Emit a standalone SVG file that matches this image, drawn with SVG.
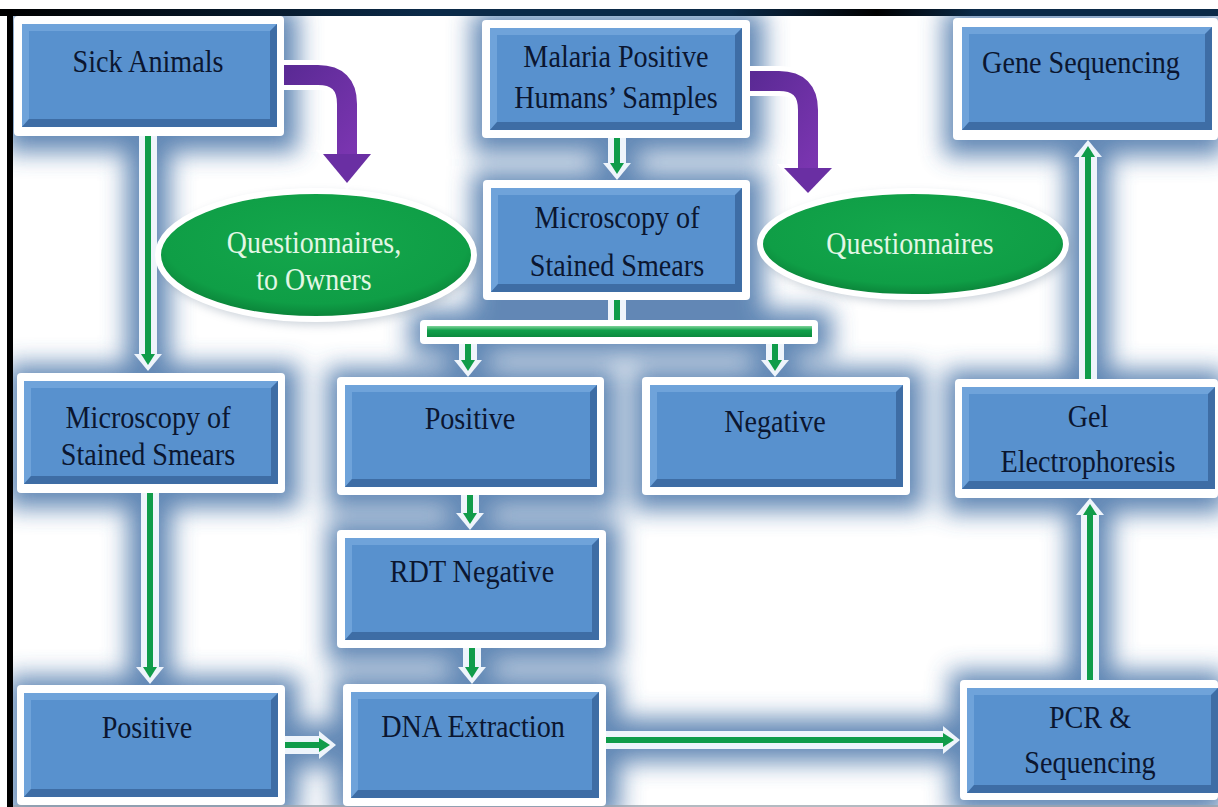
<svg xmlns="http://www.w3.org/2000/svg" width="1218" height="807" viewBox="0 0 1218 807">
<defs>
<style>
.frame{fill:#ffffff}
.body{fill:#5891ce}
.dark{fill:#3e6da5}
.light{fill:#6fa3da}
.lbl{font-family:"Liberation Serif","Times New Roman","DejaVu Serif",serif;font-size:32px;fill:#0b1630;text-anchor:middle;transform-box:fill-box;transform-origin:center;transform:scaleX(0.88)}
.elbl{font-family:"Liberation Serif","Times New Roman","DejaVu Serif",serif;font-size:31px;fill:#e2f7e5;text-anchor:middle;transform-box:fill-box;transform-origin:center;transform:scaleX(0.9)}
.halo{fill:none;stroke:#eef4fb;stroke-width:18;marker-end:url(#wh)}
.core{fill:none;stroke:#109c4a;stroke-width:6;marker-end:url(#gh)}
.stemh{fill:none;stroke:#eef4fb;stroke-width:18}
.stemc{fill:none;stroke:#109c4a;stroke-width:6}
.ph{fill:none;stroke:#ffffff;stroke-width:30}
.pc{fill:none;stroke:url(#pg);stroke-width:20}
.ell{fill:url(#eg);stroke:#ffffff;stroke-width:6}
.glow{fill:#3b6aa3}
.glowl{stroke:#3b6aa3;fill:none;stroke-width:44}
</style>
<filter id="blur" x="-30%" y="-30%" width="160%" height="160%"><feGaussianBlur stdDeviation="12"/></filter>
<filter id="sblur" x="-20%" y="-20%" width="140%" height="140%"><feGaussianBlur stdDeviation="5"/></filter>
<linearGradient id="topbar" x1="0" y1="0" x2="1" y2="0">
<stop offset="0" stop-color="#000000"/><stop offset="0.35" stop-color="#0b2a48"/><stop offset="0.6" stop-color="#0b2a48"/><stop offset="0.72" stop-color="#000000"/><stop offset="0.8" stop-color="#0b2a48"/><stop offset="1" stop-color="#0b2a48"/>
</linearGradient>
<linearGradient id="pg" x1="0" y1="0" x2="1" y2="1">
<stop offset="0" stop-color="#5b2a95"/><stop offset="1" stop-color="#7a35b0"/>
</linearGradient>
<radialGradient id="eg" cx="0.5" cy="0.4" r="0.6">
<stop offset="0" stop-color="#14a74c"/><stop offset="0.8" stop-color="#0f9e46"/><stop offset="1" stop-color="#0a7f37"/>
</radialGradient>
<linearGradient id="barg" x1="0" y1="0" x2="0" y2="1">
<stop offset="0" stop-color="#7fd39a"/><stop offset="0.4" stop-color="#11a04b"/><stop offset="1" stop-color="#0b8a3e"/>
</linearGradient>
<marker id="wh" markerUnits="userSpaceOnUse" markerWidth="20" markerHeight="32" viewBox="0 -16 20 32" refX="0" refY="0" orient="auto"><path d="M0,-14 L17,0 L0,14 Z" fill="#eef4fb"/></marker>
<marker id="gh" markerUnits="userSpaceOnUse" markerWidth="14" markerHeight="18" viewBox="0 -9 14 18" refX="0" refY="0" orient="auto"><path d="M0,-7 L11,0 L0,7 Z" fill="#109c4a"/></marker>
</defs>
<rect x="0" y="0" width="1218" height="807" fill="#ffffff"/>

<!-- glow layer -->
<g id="glow" filter="url(#blur)" opacity="0.8">
<rect class="glow" x="6" y="8" width="292" height="144"/>
<rect class="glow" x="472" y="12" width="292" height="142"/>
<rect class="glow" x="944" y="10" width="280" height="146"/>
<rect class="glow" x="472" y="171" width="292" height="144"/>
<rect class="glow" x="7" y="364" width="292" height="144"/>
<rect class="glow" x="327" y="368" width="291" height="142"/>
<rect class="glow" x="632" y="368" width="292" height="142"/>
<rect class="glow" x="945" y="370" width="280" height="143"/>
<rect class="glow" x="327" y="521" width="293" height="142"/>
<rect class="glow" x="7" y="676" width="292" height="144"/>
<rect class="glow" x="333" y="675" width="287" height="144"/>
<rect class="glow" x="950" y="671" width="275" height="144"/>
<rect class="glow" x="410" y="310" width="422" height="46"/>
<path class="glowl" d="M148,136 V371 M150,493 V684 M285,745 H336 M617,138 V180 M617,300 V321 M468,343 V377 M775,343 V377 M470,495 V530 M472,648 V684 M606,740 H960 M1090,680 V498 M1088,379 V140"/>
</g>
<g id="eglow" filter="url(#sblur)" opacity="0.35">
<ellipse cx="318" cy="259" rx="160" ry="66" fill="#6b7f95"/>
<ellipse cx="915" cy="248" rx="155" ry="55" fill="#6b7f95"/>
</g>

<!-- black border and white margins -->
<rect x="0" y="0" width="1218" height="9" fill="#ffffff"/>
<rect x="0" y="0" width="7" height="807" fill="#ffffff"/>
<rect x="0" y="9" width="1218" height="7" fill="url(#topbar)"/>
<rect x="7" y="9" width="6" height="798" fill="#000000"/>
<line x1="13" y1="806" x2="1218" y2="806" stroke="#9aa3ad" stroke-width="1.5"/>

<!-- connectors -->
<g id="connectors">
<path class="stemh" d="M617,300 V322"/>
<path class="stemc" d="M617,300 V322"/>
<g id="bar">
<rect x="420" y="320" width="398" height="24" rx="4" fill="#ffffff"/>
<rect x="427" y="326" width="385" height="11" fill="url(#barg)"/>
</g>
<path class="halo" d="M148,136 V354"/><path class="core" d="M148,136 V354"/>
<path class="halo" d="M150,493 V667"/><path class="core" d="M150,493 V667"/>
<path class="halo" d="M285,745 H319"/><path class="core" d="M285,745 H319"/>
<path class="halo" d="M617,138 V163"/><path class="core" d="M617,138 V163"/>
<path class="halo" d="M468,344 V360"/><path class="core" d="M468,344 V360"/>
<path class="halo" d="M775,344 V360"/><path class="core" d="M775,344 V360"/>
<path class="halo" d="M470,495 V513"/><path class="core" d="M470,495 V513"/>
<path class="halo" d="M472,648 V667"/><path class="core" d="M472,648 V667"/>
<path class="halo" d="M606,740 H943"/><path class="core" d="M606,740 H943"/>
<path class="halo" d="M1090,680 V515"/><path class="core" d="M1090,680 V515"/>
<path class="halo" d="M1088,379 V157"/><path class="core" d="M1088,379 V157"/>
<g id="purple1">
<path class="ph" d="M284,75 H318 Q347,75 347,104 V154"/>
<polygon points="316,150 378,150 347,190" fill="#ffffff"/>
<path class="pc" d="M284,75 H318 Q347,75 347,104 V156"/>
<polygon points="323,154 371,154 347,183" fill="#6a2fa3"/>
</g>
<g id="purple2">
<path class="ph" d="M750,81 H779 Q808,81 808,110 V168"/>
<polygon points="777,164 839,164 808,200" fill="#ffffff"/>
<path class="pc" d="M750,81 H779 Q808,81 808,110 V170"/>
<polygon points="784,168 832,168 808,193" fill="#6a2fa3"/>
</g>
</g>

<!-- nodes -->
<g id="sick">
<rect class="frame" x="14" y="16" width="270" height="120" rx="4"/>
<rect class="body" x="22" y="24" width="255" height="103"/>
<path class="light" d="M22,24 H277 L270,31 H29 V119 L22,127 Z"/>
<path class="dark" d="M22,127 H277 V24 L270,31 V119 H29 Z"/>
<text class="lbl" x="148" y="72">Sick Animals</text>
</g>
<g id="malaria">
<rect class="frame" x="482" y="20" width="268" height="118" rx="4"/>
<rect class="body" x="490" y="28" width="252" height="102"/>
<path class="light" d="M490,28 H742 L735,35 H497 V122 L490,130 Z"/>
<path class="dark" d="M490,130 H742 V28 L735,35 V122 H497 Z"/>
<text class="lbl" x="616" y="67">Malaria Positive</text>
<text class="lbl" x="616" y="108">Humans’ Samples</text>
</g>
<g id="gene">
<rect class="frame" x="953" y="18" width="265" height="122" rx="4"/>
<rect class="body" x="962" y="27" width="250" height="103"/>
<path class="light" d="M962,27 H1212 L1205,34 H969 V122 L962,130 Z"/>
<path class="dark" d="M962,130 H1212 V27 L1205,34 V122 H969 Z"/>
<text class="lbl" x="1081" y="73">Gene Sequencing</text>
</g>
<g id="microCenter">
<rect class="frame" x="483" y="180" width="267" height="120" rx="4"/>
<rect class="body" x="491" y="188" width="251" height="104"/>
<path class="light" d="M491,188 H742 L735,195 H498 V284 L491,292 Z"/>
<path class="dark" d="M491,292 H742 V188 L735,195 V284 H498 Z"/>
<text class="lbl" x="617" y="228">Microscopy of</text>
<text class="lbl" x="617" y="276">Stained Smears</text>
</g>
<g id="qOwners">
<ellipse class="ell" cx="316" cy="255" rx="158" ry="64"/>
<text class="elbl" x="314" y="253">Questionnaires,</text>
<text class="elbl" x="314" y="290">to Owners</text>
</g>
<g id="q">
<ellipse class="ell" cx="913" cy="244" rx="153" ry="53"/>
<text class="elbl" x="910" y="254">Questionnaires</text>
</g>
<g id="micLeft">
<rect class="frame" x="17" y="373" width="268" height="120" rx="4"/>
<rect class="body" x="24" y="381" width="254" height="103"/>
<path class="light" d="M24,381 H278 L271,388 H31 V476 L24,484 Z"/>
<path class="dark" d="M24,484 H278 V381 L271,388 V476 H31 Z"/>
<text class="lbl" x="148" y="428">Microscopy of</text>
<text class="lbl" x="148" y="465">Stained Smears</text>
</g>
<g id="posCenter">
<rect class="frame" x="337" y="377" width="267" height="118" rx="4"/>
<rect class="body" x="345" y="385" width="252" height="102"/>
<path class="light" d="M345,385 H597 L590,392 H352 V479 L345,487 Z"/>
<path class="dark" d="M345,487 H597 V385 L590,392 V479 H352 Z"/>
<text class="lbl" x="470" y="429">Positive</text>
</g>
<g id="neg">
<rect class="frame" x="642" y="377" width="268" height="118" rx="4"/>
<rect class="body" x="650" y="385" width="253" height="102"/>
<path class="light" d="M650,385 H903 L896,392 H657 V479 L650,487 Z"/>
<path class="dark" d="M650,487 H903 V385 L896,392 V479 H657 Z"/>
<text class="lbl" x="775" y="432">Negative</text>
</g>
<g id="gel">
<rect class="frame" x="955" y="379" width="263" height="119" rx="4"/>
<rect class="body" x="962" y="387" width="253" height="102"/>
<path class="light" d="M962,387 H1215 L1208,394 H969 V481 L962,489 Z"/>
<path class="dark" d="M962,489 H1215 V387 L1208,394 V481 H969 Z"/>
<text class="lbl" x="1088" y="427">Gel</text>
<text class="lbl" x="1088" y="472">Electrophoresis</text>
</g>
<g id="rdt">
<rect class="frame" x="337" y="530" width="269" height="118" rx="4"/>
<rect class="body" x="345" y="538" width="254" height="102"/>
<path class="light" d="M345,538 H599 L592,545 H352 V632 L345,640 Z"/>
<path class="dark" d="M345,640 H599 V538 L592,545 V632 H352 Z"/>
<text class="lbl" x="472" y="582">RDT Negative</text>
</g>
<g id="posLeft">
<rect class="frame" x="17" y="685" width="268" height="120" rx="4"/>
<rect class="body" x="24" y="693" width="254" height="104"/>
<path class="light" d="M24,693 H278 L271,700 H31 V789 L24,797 Z"/>
<path class="dark" d="M24,797 H278 V693 L271,700 V789 H31 Z"/>
<text class="lbl" x="147" y="738">Positive</text>
</g>
<g id="dna">
<rect class="frame" x="343" y="684" width="263" height="122" rx="4"/>
<rect class="body" x="351" y="692" width="248" height="106"/>
<path class="light" d="M351,692 H599 L592,699 H358 V790 L351,798 Z"/>
<path class="dark" d="M351,798 H599 V692 L592,699 V790 H358 Z"/>
<text class="lbl" x="473" y="737">DNA Extraction</text>
</g>
<g id="pcr">
<rect class="frame" x="960" y="680" width="258" height="120" rx="4"/>
<rect class="body" x="967" y="688" width="251" height="105"/>
<path class="light" d="M967,688 H1218 L1211,695 H974 V785 L967,793 Z"/>
<path class="dark" d="M967,793 H1218 V688 L1211,695 V785 H974 Z"/>
<text class="lbl" x="1090" y="728">PCR &amp;</text>
<text class="lbl" x="1090" y="773">Sequencing</text>
</g>
</svg>
